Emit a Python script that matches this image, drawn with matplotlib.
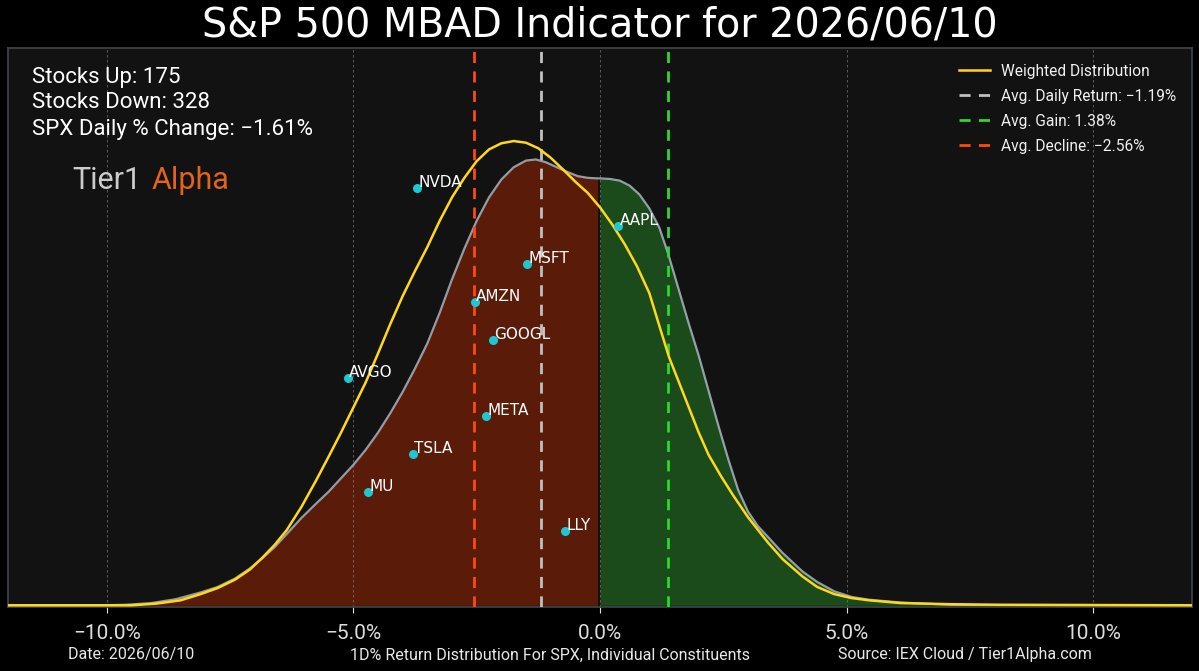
import matplotlib
matplotlib.use("Agg")
import matplotlib.pyplot as plt
import numpy as np

# distribution of constituent returns (gray outline, filled)
kde_x = [-12.0, -10.1, -9.6, -9.1, -8.6, -8.1, -7.75, -7.4, -7.1, -6.85, -6.6, -6.35,
         -6.05, -5.75, -5.5, -5.25, -5.0, -4.75, -4.5, -4.25, -4.0, -3.75, -3.5, -3.25,
         -3.0, -2.75, -2.5, -2.25, -2.0, -1.75, -1.5, -1.3, -1.1, -0.9, -0.65, -0.45,
         -0.25, -0.05, 0.0, 0.2, 0.4, 0.6, 0.8, 1.0, 1.2, 1.38, 1.6, 1.8, 2.0, 2.2,
         2.4, 2.6, 2.8, 3.0, 3.2, 3.4, 3.7, 4.1, 4.4, 4.75, 5.1, 5.45, 6.1, 7.1, 8.1, 12.0]
kde_y = [0.0, 0.0, 0.001, 0.004, 0.011, 0.023, 0.033, 0.048, 0.066, 0.084, 0.104, 0.128,
         0.157, 0.183, 0.204, 0.228, 0.252, 0.279, 0.31, 0.345, 0.383, 0.425, 0.47, 0.525,
         0.585, 0.64, 0.69, 0.732, 0.764, 0.786, 0.798, 0.800, 0.795, 0.787, 0.777, 0.770,
         0.767, 0.766, 0.766, 0.765, 0.762, 0.753, 0.737, 0.712, 0.678, 0.631, 0.565, 0.505,
         0.448, 0.385, 0.322, 0.262, 0.207, 0.168, 0.142, 0.123, 0.094, 0.061, 0.042, 0.025,
         0.015, 0.010, 0.005, 0.001, 0.0, 0.0]

# weighted distribution (yellow)
wd_x = [-12.0, -9.5, -9.0, -8.5, -8.1, -7.75, -7.4, -7.1, -6.85, -6.6, -6.35, -6.05,
        -5.75, -5.5, -5.25, -5.0, -4.75, -4.5, -4.25, -4.0, -3.75, -3.5, -3.25, -3.0,
        -2.75, -2.5, -2.25, -2.0, -1.75, -1.5, -1.25, -1.0, -0.75, -0.5, -0.25, 0.0,
        0.25, 0.5, 0.75, 1.0, 1.2, 1.4, 1.6, 1.8, 2.0, 2.2, 2.45, 2.7, 3.0, 3.4, 3.7,
        4.1, 4.4, 4.75, 5.1, 5.45, 6.1, 7.1, 8.1, 12.0]
wd_y = [0.0, 0.0, 0.003, 0.009, 0.02, 0.031, 0.046, 0.064, 0.085, 0.108, 0.135, 0.177,
        0.225, 0.267, 0.31, 0.355, 0.40, 0.452, 0.505, 0.555, 0.60, 0.643, 0.69, 0.732,
        0.767, 0.797, 0.818, 0.829, 0.833, 0.830, 0.820, 0.803, 0.782, 0.760, 0.740, 0.714,
        0.683, 0.648, 0.608, 0.56, 0.502, 0.445, 0.40, 0.355, 0.31, 0.27, 0.232, 0.197,
        0.158, 0.113, 0.083, 0.052, 0.033, 0.020, 0.013, 0.009, 0.004, 0.002, 0.001, 0.0]

tickers = ['NVDA', 'AAPL', 'MSFT', 'AMZN', 'GOOGL', 'AVGO', 'META', 'TSLA', 'MU', 'LLY']
stock_ret = [-3.71, 0.37, -1.48, -2.54, -2.17, -5.11, -2.31, -3.79, -4.71, -0.71]
stock_h = [0.748, 0.680, 0.612, 0.544, 0.476, 0.408, 0.340, 0.272, 0.204, 0.134]

avg_ret = -1.19
avg_gain = 1.38
avg_decl = -2.56
stocks_up = 175
stocks_down = 328
spx_change = -1.61
date = '2026/06/10'

xticks = [-10, -5, 0, 5, 10]


def minus(s):
    return s.replace('-', '\u2212')


fig = plt.figure(figsize=(11.99, 6.71), dpi=100, facecolor='black')
ax = fig.add_axes([0.0067, 0.0954, 0.9875, 0.8331])
ax.set_facecolor('#121212')

kx = np.array(kde_x)
ky = np.array(kde_y)
ax.fill_between(kx, 0, ky, where=kx <= -0.05, color='#5a1c08', lw=0, zorder=1)
ax.fill_between(kx, 0, ky, where=kx >= 0.0, color='#1b4a1b', lw=0, zorder=1)
ax.plot(kx, ky, color='#aab4c0', lw=1.6, alpha=0.85, zorder=2, solid_joinstyle='round')

ax.plot(wd_x, wd_y, color='#ffd81a', lw=1.8, zorder=4, solid_joinstyle='round',
        label='Weighted Distribution')
ax.axvline(avg_ret, color='#c0c0c0', lw=2, ls=(0, (4, 3)), zorder=3,
           label=minus(f'Avg. Daily Return: {avg_ret:.2f}%'))
ax.axvline(avg_gain, color='#2ed82e', lw=2, ls=(0, (4, 3)), zorder=3,
           label=f'Avg. Gain: {avg_gain:.2f}%')
ax.axvline(avg_decl, color='#ff4a0a', lw=2, ls=(0, (4, 3)), zorder=3,
           label=minus(f'Avg. Decline: {avg_decl:.2f}%'))

ax.scatter(stock_ret, stock_h, s=30, color='#1ec8d2', zorder=5)
for t, r, h in zip(tickers, stock_ret, stock_h):
    ax.annotate(t, (r, h), xytext=(1, 4), textcoords='offset points', ha='left', va='center',
                color='white', fontsize=11, family='DejaVu Sans', zorder=6)

ax.set_xlim(-12, 12)
ax.set_ylim(-0.003, 1.0)
ax.set_yticks([])
ax.set_xticks(xticks)
ax.set_xticklabels([minus(f'{v:.1f}%') for v in xticks])
ax.tick_params(axis='x', colors='#dddddd', labelsize=15, length=4, pad=8)
for lab in ax.get_xticklabels():
    lab.set_family(['Roboto', 'DejaVu Sans'])
ax.grid(axis='x', color='#8a8a8a', ls=(0, (3, 3)), lw=0.6, alpha=0.7, zorder=0)
for s in ax.spines.values():
    s.set_color('#40464c')
    s.set_linewidth(1.2)

ax.legend(loc='upper right', bbox_to_anchor=(1.0, 1.0), frameon=False, labelcolor='#f0f0f0',
          handlelength=2.0, handletextpad=0.75, borderaxespad=0.6, labelspacing=0.65,
          prop={'family': ['Roboto', 'DejaVu Sans'], 'size': 11.2})

fig.text(0.5, 0.9449, f'S&P 500 MBAD Indicator for {date}', ha='center', va='baseline',
         color='white', fontsize=28.5, family='DejaVu Sans')

stats = [f'Stocks Up: {stocks_up}', f'Stocks Down: {stocks_down}',
         minus(f'SPX Daily % Change: {spx_change:.2f}%')]
stat_base = [0.938, 0.892, 0.845]
for line, yb in zip(stats, stat_base):
    ax.text(0.0203, yb, line, transform=ax.transAxes, ha='left', va='baseline', color='white',
            fontsize=16, family=['Roboto', 'DejaVu Sans'])

ax.text(0.054, 0.748, 'Tier1', transform=ax.transAxes, ha='left', va='baseline',
        color='#cccccc', fontsize=22, family='Roboto')
ax.text(0.1216, 0.748, 'Alpha', transform=ax.transAxes, ha='left', va='baseline',
        color='#e2621f', fontsize=22, family='Roboto')

foot = dict(color='#e8e8e8', fontsize=11.5, family=['Roboto', 'DejaVu Sans'], va='center')
fig.text(0.057, 0.024, f'Date: {date}', ha='left', **foot)
fig.text(0.459, 0.024, '1D% Return Distribution For SPX, Individual Constituents', ha='center', **foot)
fig.text(0.805, 0.024, 'Source: IEX Cloud / Tier1Alpha.com', ha='center', **foot)

fig.savefig('out.png', dpi=100, facecolor='black')
